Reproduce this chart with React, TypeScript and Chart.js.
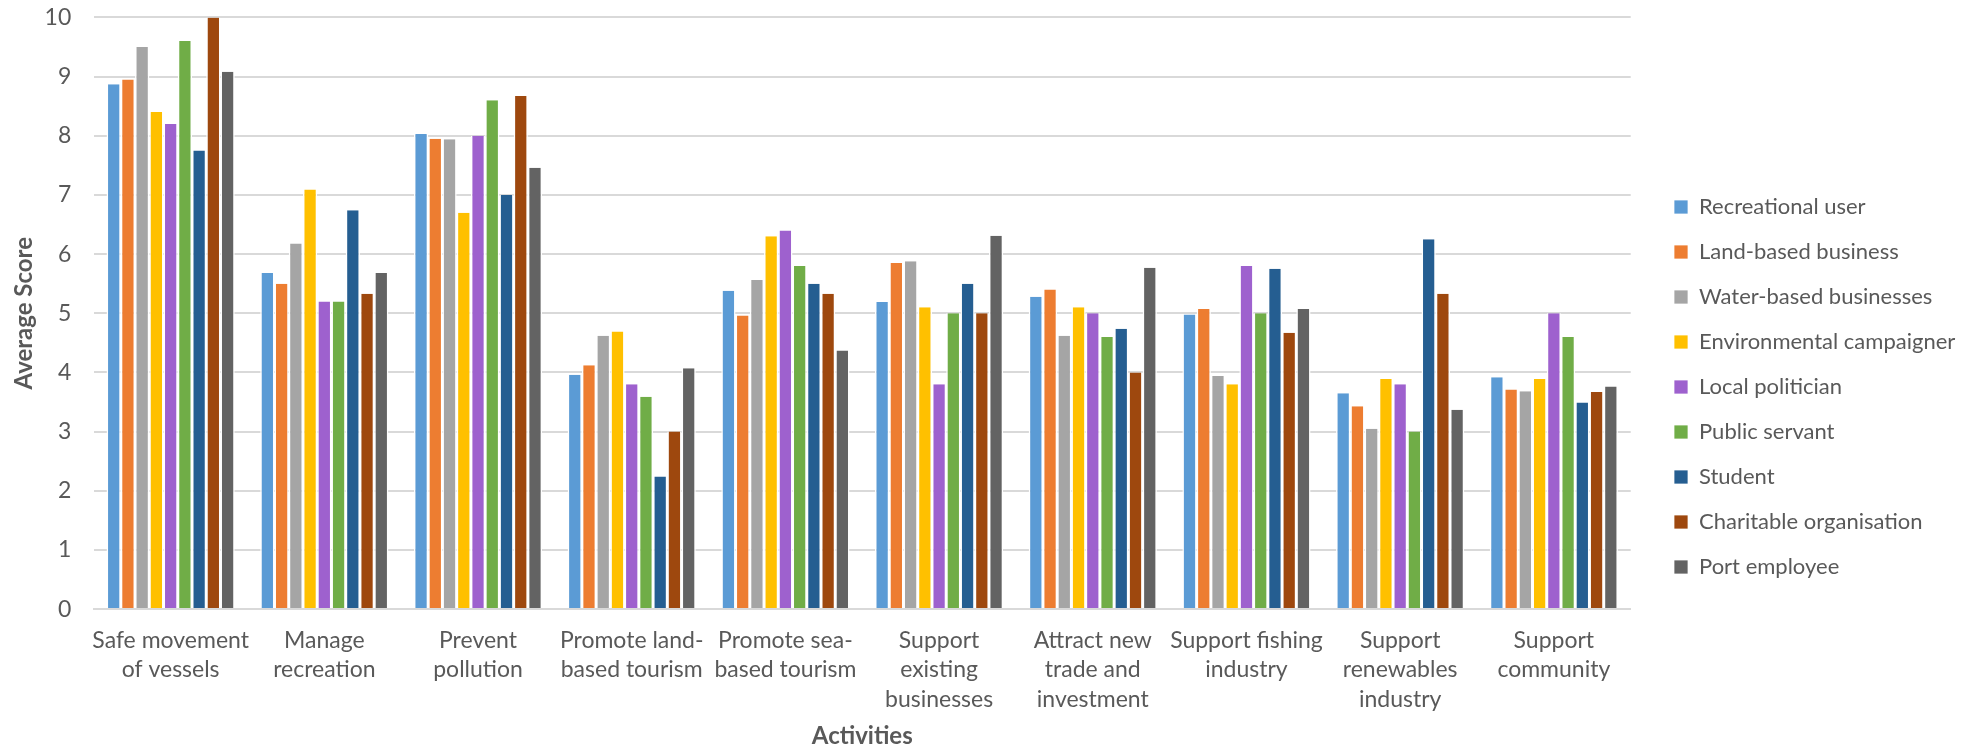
import React, { useEffect, useRef } from "react";
import { Chart, registerables } from "chart.js";

Chart.register(...registerables);

// ---------- data ----------
const categories: string[][] = [
  ["Safe movement", "of vessels"],
  ["Manage", "recreation"],
  ["Prevent", "pollution"],
  ["Promote land-", "based tourism"],
  ["Promote sea-", "based tourism"],
  ["Support", "existing", "businesses"],
  ["Attract new", "trade and", "investment"],
  ["Support fishing", "industry"],
  ["Support", "renewables", "industry"],
  ["Support", "community"],
];

const seriesNames = [
  "Recreational user",
  "Land-based business",
  "Water-based businesses",
  "Environmental campaigner",
  "Local politician",
  "Public servant",
  "Student",
  "Charitable organisation",
  "Port employee",
];

const seriesColors = [
  "#5B9BD5",
  "#ED7D31",
  "#A5A5A5",
  "#FFC000",
  "#9E61CE",
  "#70AD47",
  "#255E91",
  "#9E480E",
  "#636363",
];

const recreationalUser = [8.87, 5.68, 8.03, 3.96, 5.38, 5.19, 5.28, 4.98, 3.65, 3.92];
const landBasedBusiness = [8.95, 5.5, 7.95, 4.12, 4.96, 5.85, 5.4, 5.07, 3.43, 3.71];
const waterBasedBusinesses = [9.5, 6.18, 7.94, 4.62, 5.56, 5.88, 4.62, 3.94, 3.05, 3.68];
const environmentalCampaigner = [8.4, 7.09, 6.7, 4.69, 6.3, 5.1, 5.1, 3.8, 3.89, 3.89];
const localPolitician = [8.2, 5.2, 8.0, 3.8, 6.4, 3.8, 5.0, 5.8, 3.8, 5.0];
const publicServant = [9.6, 5.2, 8.6, 3.59, 5.8, 5.0, 4.6, 5.0, 3.0, 4.6];
const student = [7.75, 6.74, 7.0, 2.24, 5.5, 5.5, 4.74, 5.75, 6.25, 3.49];
const charitableOrganisation = [10.0, 5.33, 8.67, 3.0, 5.33, 5.0, 4.0, 4.67, 5.33, 3.67];
const portEmployee = [9.08, 5.68, 7.46, 4.07, 4.37, 6.31, 5.77, 5.07, 3.37, 3.76];

const seriesValues = [
  recreationalUser,
  landBasedBusiness,
  waterBasedBusinesses,
  environmentalCampaigner,
  localPolitician,
  publicServant,
  student,
  charitableOrganisation,
  portEmployee,
];

const yTicks = [0, 1, 2, 3, 4, 5, 6, 7, 8, 9, 10];

// ---------- layout / style ----------
const W = 1981;
const H = 750;
const FONT = "Lato, 'Open Sans', sans-serif";
const TEXT = "#595959";
const GRID = "#D9D9D9";
const FS = 23;
const LEGEND_FS = 22;
const PLOT_LEFT = 93.8;
const PLOT_TOP = 17.4;
const PLOT_BOTTOM = 609.1;
const PLOT_RIGHT = 1630.7;
const LEGEND_W = W - PLOT_RIGHT;
const LEGEND_SHIFT_X = 20.3;
const LEGEND_SHIFT_Y = 3.3;

const legendLayout = {
  id: "legendLayout",
  afterInit(chart: any) {
    const lg = chart.legend;
    if (lg && !lg.__patched) {
      const orig = lg.fit.bind(lg);
      lg.fit = function () {
        orig();
        this.width = LEGEND_W;
      };
      lg.__patched = true;
    }
  },
  afterLayout(chart: any) {
    const lg = chart.legend;
    if (!lg) return;
    lg.left += LEGEND_SHIFT_X;
    lg.right += LEGEND_SHIFT_X;
    lg.top += LEGEND_SHIFT_Y;
    lg.bottom += LEGEND_SHIFT_Y;
  },
};

export default function App() {
  const ref = useRef<HTMLCanvasElement | null>(null);

  useEffect(() => {
    document.body.style.margin = "0";
    const canvas = ref.current;
    if (!canvas) return;

    const chart = new Chart(canvas, {
      type: "bar",
      data: {
        labels: categories,
        datasets: seriesNames.map((name, i) => ({
          label: name,
          data: seriesValues[i],
          backgroundColor: seriesColors[i],
          borderColor: "#FFFFFF",
          borderWidth: { left: 1.5, right: 1.5, top: 0, bottom: 0 },
          borderSkipped: "start",
          categoryPercentage: 0.834,
          barPercentage: 1.0,
        })),
      },
      options: {
        responsive: false,
        animation: false,
        devicePixelRatio: 1,
        layout: { padding: { top: PLOT_TOP, left: 0, right: 0, bottom: 0 } },
        plugins: {
          legend: {
            display: true,
            position: "right",
            align: "center",
            labels: {
              boxWidth: 14,
              boxHeight: 14,
              padding: 45 - LEGEND_FS,
              color: TEXT,
              font: { family: FONT, size: LEGEND_FS },
            },
          },
          tooltip: { enabled: false },
          title: { display: false },
        },
        scales: {
          x: {
            grid: { display: false, drawTicks: false },
            border: { display: true, color: GRID, width: 2 },
            ticks: {
              color: TEXT,
              font: { family: FONT, size: FS, lineHeight: 29.5 / FS },
              padding: 16.3,
              maxRotation: 0,
              minRotation: 0,
              autoSkip: false,
            },
            title: {
              display: true,
              text: "Activities",
              color: TEXT,
              font: { family: FONT, size: 24, weight: "bold", lineHeight: 1.2 },
              padding: { top: 0, bottom: -1 },
            },
            afterFit(scale: any) {
              scale.height = H - PLOT_BOTTOM;
              scale.paddingLeft = 0;
              scale.paddingRight = 0;
            },
          },
          y: {
            min: 0,
            max: 10,
            afterBuildTicks(scale: any) {
              scale.ticks = yTicks.map((v) => ({ value: v }));
            },
            grid: { color: GRID, lineWidth: 2, drawTicks: false },
            border: { display: false },
            ticks: {
              color: TEXT,
              font: { family: FONT, size: FS },
              padding: 22.5,
            },
            title: {
              display: true,
              text: "Average Score",
              color: TEXT,
              font: { family: FONT, size: 24, weight: "bold", lineHeight: 1.2 },
              padding: { top: 9.6, bottom: 0 },
            },
            afterFit(scale: any) {
              scale.width = PLOT_LEFT;
              scale.paddingTop = 0;
              scale.paddingBottom = 0;
            },
          },
        },
      },
      plugins: [legendLayout],
    } as any);

    return () => {
      chart.destroy();
    };
  }, []);

  return (
    <div style={{ width: W, height: H, background: "#FFFFFF" }}>
      <canvas ref={ref} width={W} height={H} style={{ width: W, height: H, display: "block" }} />
    </div>
  );
}
